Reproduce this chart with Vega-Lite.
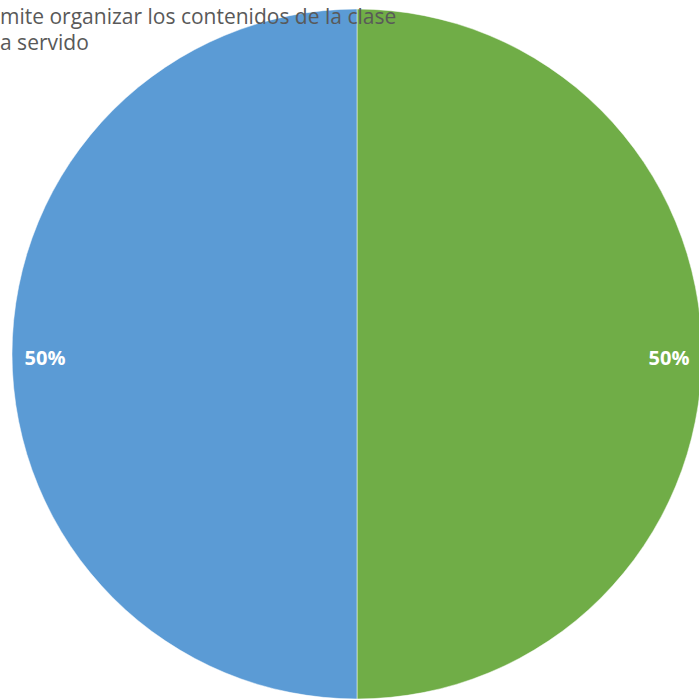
{
  "$schema": "https://vega.github.io/schema/vega-lite/v6.json",
  "width": 714,
  "height": 708,
  "padding": 0,
  "autosize": {"type": "none"},
  "background": "white",
  "title": {
    "text": ["mite organizar los contenidos de la clase", "\u00a0a servido"],
    "orient": "top",
    "anchor": "start",
    "frame": "group",
    "baseline": "top",
    "offset": 0,
    "dx": 0,
    "dy": 54,
    "font": "Open Sans",
    "fontSize": 21,
    "fontWeight": "normal",
    "color": "#595959",
    "lineHeight": 26
  },
  "data": {
    "values": [
      {"category": "Me permite organizar los contenidos de la clase", "order": 1, "value": 50, "label": "50%"},
      {"category": "No me ha servido", "order": 2, "value": 50, "label": "50%"}
    ]
  },
  "encoding": {
    "theta": {"field": "value", "type": "quantitative", "stack": true},
    "order": {"field": "order", "type": "quantitative"}
  },
  "layer": [
    {
      "mark": {"type": "arc", "outerRadius": 345, "stroke": "white", "strokeWidth": 0.5},
      "encoding": {
        "color": {
          "field": "category",
          "type": "nominal",
          "scale": {"domain": ["Me permite organizar los contenidos de la clase", "No me ha servido"], "range": ["#70AD47", "#5B9BD5"]},
          "legend": null
        }
      }
    },
    {
      "mark": {"type": "text", "radius": 312, "dy": 5, "font": "Open Sans", "fontSize": 20, "fontWeight": "bold", "color": "white"},
      "encoding": {"text": {"field": "label", "type": "nominal"}}
    }
  ]
}
